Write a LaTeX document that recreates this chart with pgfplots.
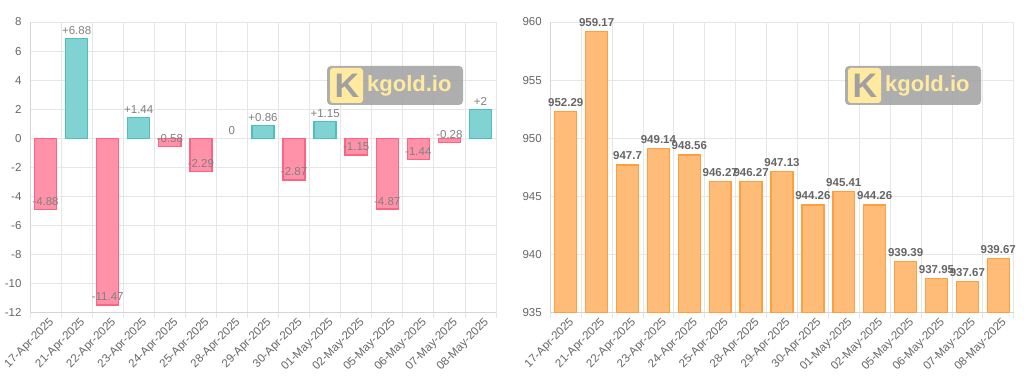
\documentclass[border=0pt]{standalone}
\usepackage{fontspec}
\setmainfont{Liberation Sans}
\usepackage{pgfplots}
\pgfplotsset{compat=1.18}
\usepackage{pgfplotstable}

\definecolor{tealb}{RGB}{75,192,192}
\definecolor{tealf}{RGB}{129,211,211}
\definecolor{pinkb}{RGB}{255,99,132}
\definecolor{pinkf}{RGB}{255,146,169}
\definecolor{orab}{RGB}{255,159,64}
\definecolor{oraf}{RGB}{255,188,121}
\definecolor{tickc}{RGB}{102,102,102}
\definecolor{labc}{RGB}{128,128,128}
\definecolor{gridc}{RGB}{230,230,230}
\definecolor{axisc}{RGB}{212,212,212}
\definecolor{wmgray}{RGB}{160,160,160}
\definecolor{wmyel}{RGB}{255,234,160}

\pgfplotstableread{
x y lab
0 -4.88 -4.88
1 6.88 +6.88
2 -11.47 -11.47
3 1.44 +1.44
4 -0.58 -0.58
5 -2.29 -2.29
6 0 0
7 0.86 +0.86
8 -2.87 -2.87
9 1.15 +1.15
10 -1.15 -1.15
11 -4.87 -4.87
12 -1.44 -1.44
13 -0.28 -0.28
14 2 +2
}\chg

\pgfplotstableread{
x y
0 952.29
1 959.17
2 947.7
3 949.14
4 948.56
5 946.27
6 946.27
7 947.13
8 944.26
9 945.41
10 944.26
11 939.39
12 937.95
13 937.67
14 939.67
}\price

\pgfplotsset{
  kstyle/.style={
    scale only axis,
    xmin=-0.5, xmax=14.5,
    xtick={0,...,14},
    xticklabels={17-Apr-2025,21-Apr-2025,22-Apr-2025,23-Apr-2025,24-Apr-2025,25-Apr-2025,28-Apr-2025,29-Apr-2025,30-Apr-2025,01-May-2025,02-May-2025,05-May-2025,06-May-2025,07-May-2025,08-May-2025},
    minor xtick={-0.5,0.5,...,14.5},
    xminorgrids=true,
    ymajorgrids=true,
    grid style={gridc, line width=0.8pt},
    minor grid style={gridc, line width=0.8pt},
    axis lines=left,
    axis line style={-, axisc, line width=0.8pt},
    tick align=outside,
    major tick length=0pt,
    minor tick length=5pt,
    minor x tick style={gridc, line width=0.8pt},
    /pgf/number format/assume math mode=true,
    ticklabel style={font=\fontsize{11.5}{13}\selectfont, text=tickc},
    xticklabel style={rotate=45, anchor=north east, inner sep=1pt, yshift=-4pt},
    yticklabel style={xshift=-5pt},
    clip=false,
  }
}

\begin{document}
\begin{tikzpicture}
\path[use as bounding box] (0pt,0pt) rectangle (1024pt,382pt);

\begin{axis}[kstyle, at={(30pt,69.3pt)}, anchor=south west, width=466pt, height=290.7pt,
  ymin=-12, ymax=8, ytick={-12,-10,-8,-6,-4,-2,0,2,4,6,8},
  yticklabels={-12,-10,-8,-6,-4,-2,0,2,4,6,8}]
  \addplot[ybar, bar shift=0pt, bar width=0.71, fill=pinkf, draw=pinkb, line width=1.4pt]
    coordinates {(0,-4.88) (2,-11.47) (4,-0.58) (5,-2.29) (8,-2.87) (10,-1.15) (11,-4.87) (12,-1.44) (13,-0.28)};
  \addplot[ybar, bar shift=0pt, bar width=0.71, fill=tealf, draw=tealb, line width=1.4pt]
    coordinates {(1,6.88) (3,1.44) (7,0.86) (9,1.15) (14,2)};
  \addplot[draw=none, mark=none, nodes near coords, point meta=explicit symbolic,
    nodes near coords align={center},
    nodes near coords style={font=\fontsize{11.5}{13}\selectfont, text=labc, anchor=center, yshift=8pt}]
    table[x=x, y=y, meta=lab] {\chg};
\end{axis}

\begin{axis}[kstyle, at={(550.3pt,69.3pt)}, anchor=south west, width=463.4pt, height=290.7pt,
  ymin=935, ymax=960, ytick={935,940,945,950,955,960},
  yticklabels={935,940,945,950,955,960}]
  \addplot[ybar, bar shift=0pt, bar width=0.71, fill=oraf, draw=orab, line width=1.4pt]
    table[x=x, y=y] {\price};
  \addplot[draw=none, mark=none, nodes near coords, point meta=explicit symbolic,
    nodes near coords align={center},
    nodes near coords style={font=\bfseries\fontsize{11.5}{13}\selectfont, text=tickc, anchor=center, yshift=9pt}]
    table[x=x, y=y, meta=y] {\price};
\end{axis}

% watermarks
\foreach \ox in {327,845} {
  \fill[wmgray, opacity=0.85, rounded corners=4pt] (\ox pt,316pt) rectangle ({\ox pt+136pt},277pt);
  \fill[wmyel, rounded corners=3pt] ({\ox pt+3pt},314pt) rectangle ({\ox pt+36pt},279pt);
  \node[text=wmgray, font=\bfseries\fontsize{34}{34}\selectfont, inner sep=0pt] at ({\ox pt+20pt},296.5pt) {K};
  \node[text=wmyel, font=\bfseries\fontsize{22}{22}\selectfont, anchor=west, inner sep=0pt] at ({\ox pt+40pt},296pt) {kgold.io};
}
\end{tikzpicture}
\end{document}
